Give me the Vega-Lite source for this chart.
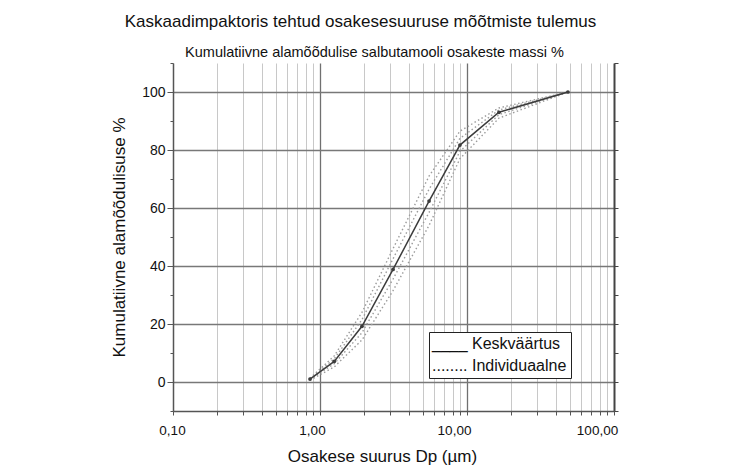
{
  "$schema": "https://vega.github.io/schema/vega-lite/v6.json",
  "width": 441,
  "height": 348,
  "autosize": {"type": "none"},
  "padding": {"left": 173, "top": 63, "right": 118, "bottom": 63},
  "background": "white",
  "config": {"view": {"stroke": null}, "font": "Liberation Sans"},
  "title": {
    "text": "Kaskaadimpaktoris tehtud osakesesuuruse mõõtmiste tulemus",
    "fontSize": 17,
    "fontWeight": "normal",
    "color": "#111111",
    "anchor": "middle",
    "frame": "group",
    "dx": -33,
    "dy": -7,
    "offset": 6
  },
  "data": {
    "values": [
      {"run": "M", "type": "Keskväärtus", "d": 0.855, "pct": 1.0},
      {"run": "M", "type": "Keskväärtus", "d": 1.25, "pct": 7.1},
      {"run": "M", "type": "Keskväärtus", "d": 1.93, "pct": 19.2},
      {"run": "M", "type": "Keskväärtus", "d": 3.14, "pct": 38.8},
      {"run": "M", "type": "Keskväärtus", "d": 5.52, "pct": 62.4},
      {"run": "M", "type": "Keskväärtus", "d": 8.95, "pct": 81.7},
      {"run": "M", "type": "Keskväärtus", "d": 16.5, "pct": 93.0},
      {"run": "M", "type": "Keskväärtus", "d": 48.6, "pct": 100.0},
      {"run": "A", "type": "Individuaalne", "d": 0.855, "pct": 1.3},
      {"run": "A", "type": "Individuaalne", "d": 1.25, "pct": 9.0},
      {"run": "A", "type": "Individuaalne", "d": 1.93, "pct": 24.0},
      {"run": "A", "type": "Individuaalne", "d": 3.14, "pct": 46.0},
      {"run": "A", "type": "Individuaalne", "d": 5.52, "pct": 71.0},
      {"run": "A", "type": "Individuaalne", "d": 8.95, "pct": 86.5},
      {"run": "A", "type": "Individuaalne", "d": 16.5, "pct": 94.5},
      {"run": "A", "type": "Individuaalne", "d": 48.6, "pct": 100.0},
      {"run": "B", "type": "Individuaalne", "d": 0.855, "pct": 1.1},
      {"run": "B", "type": "Individuaalne", "d": 1.25, "pct": 8.0},
      {"run": "B", "type": "Individuaalne", "d": 1.93, "pct": 21.5},
      {"run": "B", "type": "Individuaalne", "d": 3.14, "pct": 42.5},
      {"run": "B", "type": "Individuaalne", "d": 5.52, "pct": 66.5},
      {"run": "B", "type": "Individuaalne", "d": 8.95, "pct": 84.0},
      {"run": "B", "type": "Individuaalne", "d": 16.5, "pct": 93.8},
      {"run": "B", "type": "Individuaalne", "d": 48.6, "pct": 100.0},
      {"run": "C", "type": "Individuaalne", "d": 0.855, "pct": 0.9},
      {"run": "C", "type": "Individuaalne", "d": 1.25, "pct": 6.3},
      {"run": "C", "type": "Individuaalne", "d": 1.93, "pct": 17.0},
      {"run": "C", "type": "Individuaalne", "d": 3.14, "pct": 35.5},
      {"run": "C", "type": "Individuaalne", "d": 5.52, "pct": 58.5},
      {"run": "C", "type": "Individuaalne", "d": 8.95, "pct": 79.5},
      {"run": "C", "type": "Individuaalne", "d": 16.5, "pct": 92.2},
      {"run": "C", "type": "Individuaalne", "d": 48.6, "pct": 100.0},
      {"run": "D", "type": "Individuaalne", "d": 0.855, "pct": 0.6},
      {"run": "D", "type": "Individuaalne", "d": 1.25, "pct": 5.2},
      {"run": "D", "type": "Individuaalne", "d": 1.93, "pct": 14.5},
      {"run": "D", "type": "Individuaalne", "d": 3.14, "pct": 31.5},
      {"run": "D", "type": "Individuaalne", "d": 5.52, "pct": 54.0},
      {"run": "D", "type": "Individuaalne", "d": 8.95, "pct": 77.0},
      {"run": "D", "type": "Individuaalne", "d": 16.5, "pct": 91.0},
      {"run": "D", "type": "Individuaalne", "d": 48.6, "pct": 100.0}
    ]
  },
  "layer": [
    {
      "transform": [{"filter": "datum.type == 'Individuaalne'"}],
      "mark": {"type": "line", "strokeDash": [1.5, 2.5], "strokeWidth": 1.4},
      "encoding": {
        "x": {
          "field": "d",
          "type": "quantitative",
          "scale": {"type": "log", "domain": [0.1, 100], "nice": false},
          "axis": {
            "orient": "bottom",
            "values": [0.1, 0.2, 0.3, 0.4, 0.5, 0.6, 0.7, 0.8, 0.9, 1, 2, 3, 4, 5, 6, 7, 8, 9, 10, 20, 30, 40, 50, 60, 70, 80, 90, 100],
            "labelExpr": "datum.value == 0.1 ? '0,10' : datum.value == 1 ? '1,00' : datum.value == 10 ? '10,00' : datum.value == 100 ? '100,00' : ''",
            "labelFontSize": 13.5,
            "labelColor": "#111111",
            "labelPadding": 8,
            "labelFlush": false,
            "labelOverlap": false,
            "labelBound": false,
            "labelOffset": {"condition": [{"test": "datum.value == 1", "value": -8}, {"test": "datum.value == 10", "value": -13}, {"test": "datum.value == 100", "value": -17}], "value": -1},
            "tickSize": 4,
            "tickColor": "#555555",
            "domainColor": "#555555",
            "domainWidth": 1.5,
            "grid": true,
            "gridColor": {"condition": {"test": "datum.value == 1 || datum.value == 10", "value": "#707070"}, "value": "#c8c8c8"},
            "gridWidth": {"condition": {"test": "datum.value == 1 || datum.value == 10", "value": 1.3}, "value": 1},
            "title": "Osakese suurus Dp (µm)",
            "titleFontSize": 17,
            "titleFontWeight": "normal",
            "titleColor": "#111111",
            "titleX": 209,
            "titleY": 50,
            "titleAlign": "center",
            "titleBaseline": "alphabetic"
          }
        },
        "y": {
          "field": "pct",
          "type": "quantitative",
          "scale": {"domain": [-10, 110], "nice": false, "zero": false},
          "axis": {
            "orient": "left",
            "values": [-10, 0, 10, 20, 30, 40, 50, 60, 70, 80, 90, 100, 110],
            "labelExpr": "datum.value % 20 == 0 ? datum.label : ''",
            "labelFontSize": 14,
            "labelColor": "#111111",
            "labelPadding": 2,
            "tickSize": {"condition": {"test": "datum.value % 20 == 0", "value": 6}, "value": 3},
            "tickColor": "#555555",
            "domainColor": "#555555",
            "domainWidth": 1.5,
            "grid": true,
            "gridOpacity": {"condition": {"test": "datum.value % 20 == 0", "value": 1}, "value": 0},
            "gridColor": "#787878",
            "gridWidth": 1.3,
            "title": "Kumulatiivne alamõõdulisuse %",
            "titleFontSize": 17,
            "titleFontWeight": "normal",
            "titleColor": "#111111",
            "titleX": -49,
            "titleY": 174,
            "titleAngle": 270,
            "titleAlign": "center",
            "titleBaseline": "alphabetic"
          }
        },
        "detail": {"field": "run"},
        "color": {
          "field": "type",
          "type": "nominal",
          "scale": {"domain": ["Keskväärtus", "Individuaalne"], "range": ["#3c3c3c", "#9c9c9c"]},
          "legend": {
            "orient": "none",
            "legendX": 256,
            "legendY": 269,
            "title": null,
            "labelExpr": "datum.label == 'Keskväärtus' ? '____ Keskväärtus' : '........ Individuaalne'",
            "labelFontSize": 16,
            "labelColor": "#111111",
            "symbolOpacity": 0,
            "symbolSize": 0,
            "symbolStrokeWidth": 0,
            "labelOffset": -17,
            "padding": 4,
            "rowPadding": 6,
            "strokeColor": "#222222",
            "fillColor": "white",
            "cornerRadius": 0
          }
        }
      }
    },
    {
      "transform": [{"filter": "datum.type == 'Keskväärtus'"}],
      "mark": {"type": "line", "strokeWidth": 1.5, "point": {"filled": true, "size": 14}},
      "encoding": {
        "x": {
          "field": "d",
          "type": "quantitative",
          "axis": {
            "orient": "top",
            "title": "Kumulatiivne alamõõdulise salbutamooli osakeste massi %",
            "labels": false,
            "ticks": false,
            "domain": false,
            "grid": false,
            "titleFontSize": 14.5,
            "titleFontWeight": "normal",
            "titleColor": "#111111",
            "titleX": 201,
            "titleY": -7,
            "titleAlign": "center",
            "titleBaseline": "alphabetic"
          }
        },
        "y": {
          "field": "pct",
          "type": "quantitative",
          "axis": {
            "orient": "right",
            "values": [-10, 0, 10, 20, 30, 40, 50, 60, 70, 80, 90, 100, 110],
            "labels": false,
            "grid": false,
            "tickSize": 4,
            "tickColor": "#444444",
            "domainColor": "#444444",
            "domainWidth": 2,
            "title": null
          }
        },
        "color": {"field": "type", "type": "nominal"}
      }
    }
  ],
  "resolve": {"axis": {"x": "independent", "y": "independent"}}
}
